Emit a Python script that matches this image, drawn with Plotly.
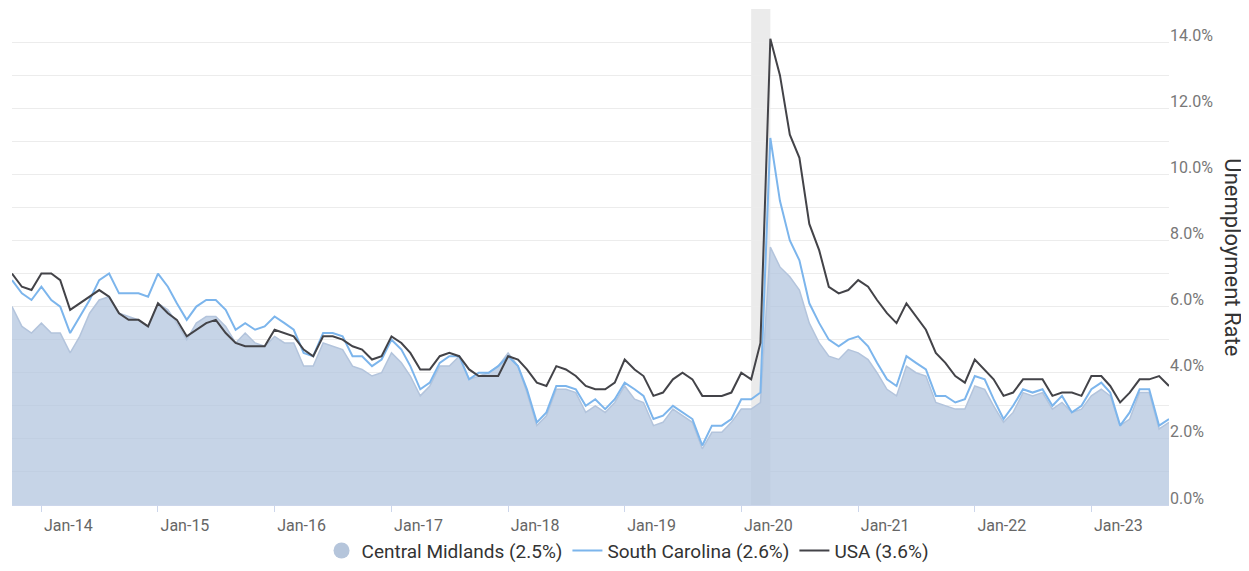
import pandas as pd
import plotly.graph_objects as go

# Monthly unemployment rate (not seasonally adjusted), Oct 2013 -> Sep 2023
months = pd.date_range("2013-10-01", periods=120, freq="MS")

central_midlands = [
    6.0, 5.4, 5.2, 5.5, 5.2, 5.2, 4.6, 5.1, 5.8, 6.2, 6.3, 5.8,
    5.7, 5.6, 5.4, 6.1, 5.9, 5.5, 5.0, 5.5, 5.7, 5.7, 5.4, 4.9,
    5.2, 4.9, 4.8, 5.1, 4.9, 4.9, 4.2, 4.2, 4.9, 4.8, 4.7, 4.2,
    4.1, 3.9, 4.0, 4.6, 4.3, 3.9, 3.3, 3.6, 4.2, 4.2, 4.5, 3.8,
    3.9, 4.0, 4.2, 4.6, 4.2, 3.4, 2.4, 2.7, 3.5, 3.5, 3.4, 2.8,
    3.0, 2.8, 3.1, 3.6, 3.2, 3.1, 2.4, 2.5, 2.9, 2.7, 2.5, 1.7,
    2.2, 2.2, 2.5, 2.9, 2.9, 3.1, 7.8, 7.2, 6.9, 6.5, 5.5, 4.9,
    4.5, 4.4, 4.7, 4.6, 4.4, 4.0, 3.5, 3.3, 4.2, 4.0, 3.9, 3.1,
    3.0, 2.9, 2.9, 3.6, 3.5, 3.0, 2.5, 2.8, 3.4, 3.3, 3.4, 2.9,
    3.1, 2.8, 2.9, 3.3, 3.5, 3.3, 2.4, 2.6, 3.4, 3.4, 2.3, 2.5,
]

south_carolina = [
    6.8, 6.4, 6.2, 6.6, 6.2, 6.0, 5.2, 5.7, 6.2, 6.8, 7.0, 6.4,
    6.4, 6.4, 6.3, 7.0, 6.6, 6.1, 5.6, 6.0, 6.2, 6.2, 5.9, 5.3,
    5.5, 5.3, 5.4, 5.7, 5.5, 5.3, 4.6, 4.5, 5.2, 5.2, 5.1, 4.5,
    4.5, 4.2, 4.4, 5.0, 4.7, 4.2, 3.5, 3.7, 4.3, 4.5, 4.5, 3.8,
    4.0, 4.0, 4.2, 4.5, 4.2, 3.5, 2.5, 2.8, 3.6, 3.6, 3.5, 3.0,
    3.2, 2.9, 3.2, 3.7, 3.5, 3.3, 2.6, 2.7, 3.0, 2.8, 2.6, 1.8,
    2.4, 2.4, 2.6, 3.2, 3.2, 3.4, 11.1, 9.2, 8.0, 7.4, 6.1, 5.5,
    5.0, 4.8, 5.0, 5.1, 4.8, 4.3, 3.8, 3.6, 4.5, 4.3, 4.1, 3.3,
    3.3, 3.1, 3.2, 3.9, 3.8, 3.2, 2.6, 3.0, 3.5, 3.4, 3.5, 3.0,
    3.3, 2.8, 3.0, 3.5, 3.7, 3.4, 2.4, 2.8, 3.5, 3.5, 2.4, 2.6,
]

usa = [
    7.0, 6.6, 6.5, 7.0, 7.0, 6.8, 5.9, 6.1, 6.3, 6.5, 6.3, 5.8,
    5.6, 5.6, 5.4, 6.1, 5.8, 5.6, 5.1, 5.3, 5.5, 5.6, 5.2, 4.9,
    4.8, 4.8, 4.8, 5.3, 5.2, 5.1, 4.7, 4.5, 5.1, 5.1, 5.0, 4.8,
    4.7, 4.4, 4.5, 5.1, 4.9, 4.6, 4.1, 4.1, 4.5, 4.6, 4.5, 4.1,
    3.9, 3.9, 3.9, 4.5, 4.4, 4.1, 3.7, 3.6, 4.2, 4.1, 3.9, 3.6,
    3.5, 3.5, 3.7, 4.4, 4.1, 3.9, 3.3, 3.4, 3.8, 4.0, 3.8, 3.3,
    3.3, 3.3, 3.4, 4.0, 3.8, 4.9, 14.1, 13.0, 11.2, 10.5, 8.5, 7.7,
    6.6, 6.4, 6.5, 6.8, 6.6, 6.2, 5.8, 5.5, 6.1, 5.7, 5.3, 4.6,
    4.3, 3.9, 3.7, 4.4, 4.1, 3.8, 3.3, 3.4, 3.8, 3.8, 3.8, 3.3,
    3.4, 3.4, 3.3, 3.9, 3.9, 3.6, 3.1, 3.4, 3.8, 3.8, 3.9, 3.6,
]

recession = ("2020-02-01", "2020-04-01")
y_ticks = [0, 2, 4, 6, 8, 10, 12, 14]
y_labels = [f"{v:.1f}%" for v in y_ticks]

fig = go.Figure()

# Central Midlands: filled area (legend shown by a circle marker below)
fig.add_trace(go.Scatter(
    x=months, y=central_midlands, mode="lines", fill="tozeroy",
    line=dict(color="#b3c4dc", width=1.5),
    fillcolor="rgba(176,196,222,0.72)",
    showlegend=False, hoverinfo="skip",
))
fig.add_trace(go.Scatter(
    x=[None], y=[None], mode="markers",
    marker=dict(symbol="circle", size=18, color="#b5c5db"),
    name=f"Central Midlands ({central_midlands[-1]:.1f}%)",
))
fig.add_trace(go.Scatter(
    x=months, y=south_carolina, mode="lines",
    line=dict(color="#7cb5ec", width=2),
    name=f"South Carolina ({south_carolina[-1]:.1f}%)",
))
fig.add_trace(go.Scatter(
    x=months, y=usa, mode="lines",
    line=dict(color="#434348", width=2),
    name=f"USA ({usa[-1]:.1f}%)",
))

fig.add_vrect(x0=recession[0], x1=recession[1], fillcolor="#ebebeb",
              line_width=0, layer="below")

fig.update_xaxes(
    range=[months[0], months[-1]],
    tickformat="%b-%y",
    dtick="M12", tick0="2014-01-01",
    ticks="outside", ticklen=6, tickcolor="#ccd6eb",
    ticklabelshift=27,
    showgrid=False,
    showline=True, linecolor="#ccd6eb", linewidth=1,
    tickfont=dict(family="Roboto", size=16, color="#666666"),
)
fig.update_yaxes(
    side="right",
    range=[0, 15],
    tickvals=y_ticks, ticktext=y_labels,
    ticklabelshift=-7,
    showgrid=True, gridcolor="#ececec", gridwidth=1,
    minor=dict(dtick=1, showgrid=True, gridcolor="#ececec", gridwidth=1),
    zeroline=False,
    tickfont=dict(family="Roboto", size=16, color="#777777"),
)

fig.add_annotation(
    text="Unemployment Rate", textangle=90,
    xref="paper", yref="paper", x=1.055, y=0.5, xanchor="center",
    showarrow=False, font=dict(family="Roboto", size=22, color="#333333"),
)

# page body has an 8px default margin, so the figure is sized/offset for it
fig.update_layout(
    width=1241, height=563,
    margin=dict(l=4, r=80, t=1, b=64),
    plot_bgcolor="white", paper_bgcolor="white",
    font=dict(family="Roboto", color="#333333"),
    legend=dict(
        orientation="h", x=0.532, xanchor="center", y=-0.092, yanchor="middle",
        font=dict(family="Roboto", size=19, color="#333333"),
        itemwidth=30,
    ),
)

fig.write_html("out.html")
